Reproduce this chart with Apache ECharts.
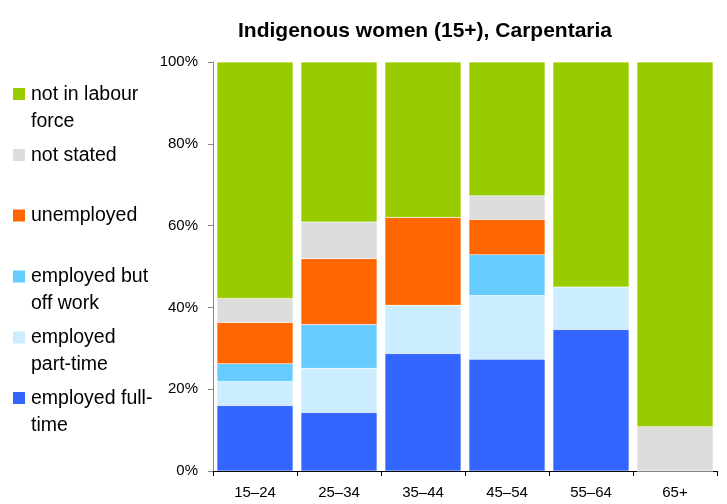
<!DOCTYPE html>
<html><head><meta charset="utf-8">
<script src="https://cdn.jsdelivr.net/npm/echarts@6/dist/echarts.min.js"></script>
<style>html,body{margin:0;padding:0;background:#fff}#c{width:727px;height:504px}</style>
</head><body><div id="c"></div>
<script>
var categories = ['15–24','25–34','35–44','45–54','55–64','65+'];
var fullTime   = [16.0, 14.3, 28.7, 27.3, 34.6, 0];
var partTime   = [5.9, 10.8, 11.8, 15.6, 10.4, 0];
var offWork    = [4.3, 10.7, 0, 10.0, 0, 0];
var unemployed = [10.1, 16.1, 21.5, 8.6, 0, 0];
var notStated  = [5.9, 9.0, 0, 5.8, 0, 10.8];
var notInLF    = [57.8, 39.1, 38.0, 32.7, 55.0, 89.2];
var yTicks = [0, 20, 40, 60, 80, 100];

var seriesDefs = [
  {name:'employed full-time', data: fullTime, color:'#3366FF', label:['employed full-','time']},
  {name:'employed part-time', data: partTime, color:'#CCECFF', label:['employed','part-time']},
  {name:'employed but off work', data: offWork, color:'#66CCFF', label:['employed but','off work']},
  {name:'unemployed', data: unemployed, color:'#FF6600', label:['unemployed']},
  {name:'not stated', data: notStated, color:'#DDDDDD', label:['not stated']},
  {name:'not in labour force', data: notInLF, color:'#99CC00', label:['not in labour','force']}
];
var legendY = [94, 155, 215.5, 276.5, 337.5, 398];
var graphics = [];
var order = seriesDefs.slice().reverse();
order.forEach(function(s, i){
  var cy = legendY[i];
  graphics.push({type:'rect', left:13, top:cy-6, shape:{width:12,height:12}, style:{fill:s.color}});
  graphics.push({type:'text', left:31, top:cy-13, style:{text:s.label.join('\n'), fill:'#000', font:'19.5px "Liberation Sans", Arial, sans-serif', lineHeight:27}});
});

var chart = echarts.init(document.getElementById('c'));
chart.setOption({
  animation:false,
  title:{text:'Indigenous women (15+), Carpentaria', left:420, textAlign:'center', top:16,
    textStyle:{fontFamily:'"Liberation Sans", Arial, sans-serif', fontWeight:'bold', fontSize:21, color:'#000'}},
  grid:{left:213, right:10, top:62, bottom:33},
  xAxis:{type:'category', data:categories,
    axisLine:{lineStyle:{color:'#000', width:1}},
    axisTick:{show:true, length:5, lineStyle:{color:'#000'}},
    axisLabel:{color:'#000', fontSize:15, margin:14, fontFamily:'"Liberation Sans", Arial, sans-serif'}},
  yAxis:{type:'value', min:0, max:100, interval:20,
    axisLine:{show:true, lineStyle:{color:'#888', width:1}},
    axisTick:{show:true, length:5, lineStyle:{color:'#888'}},
    splitLine:{show:false},
    axisLabel:{color:'#000', fontSize:15, margin:15, fontFamily:'"Liberation Sans", Arial, sans-serif',
      formatter:function(v){ return yTicks.indexOf(v) >= 0 ? v + '%' : ''; }}},
  graphic: graphics,
  series: seriesDefs.map(function(s){
    return {name:s.name, type:'bar', stack:'all', data:s.data, barCategoryGap:'9.5%',
      itemStyle:{color:s.color, borderColor:'rgba(255,255,255,0.35)', borderWidth:0.5}};
  })
});
</script></body></html>
